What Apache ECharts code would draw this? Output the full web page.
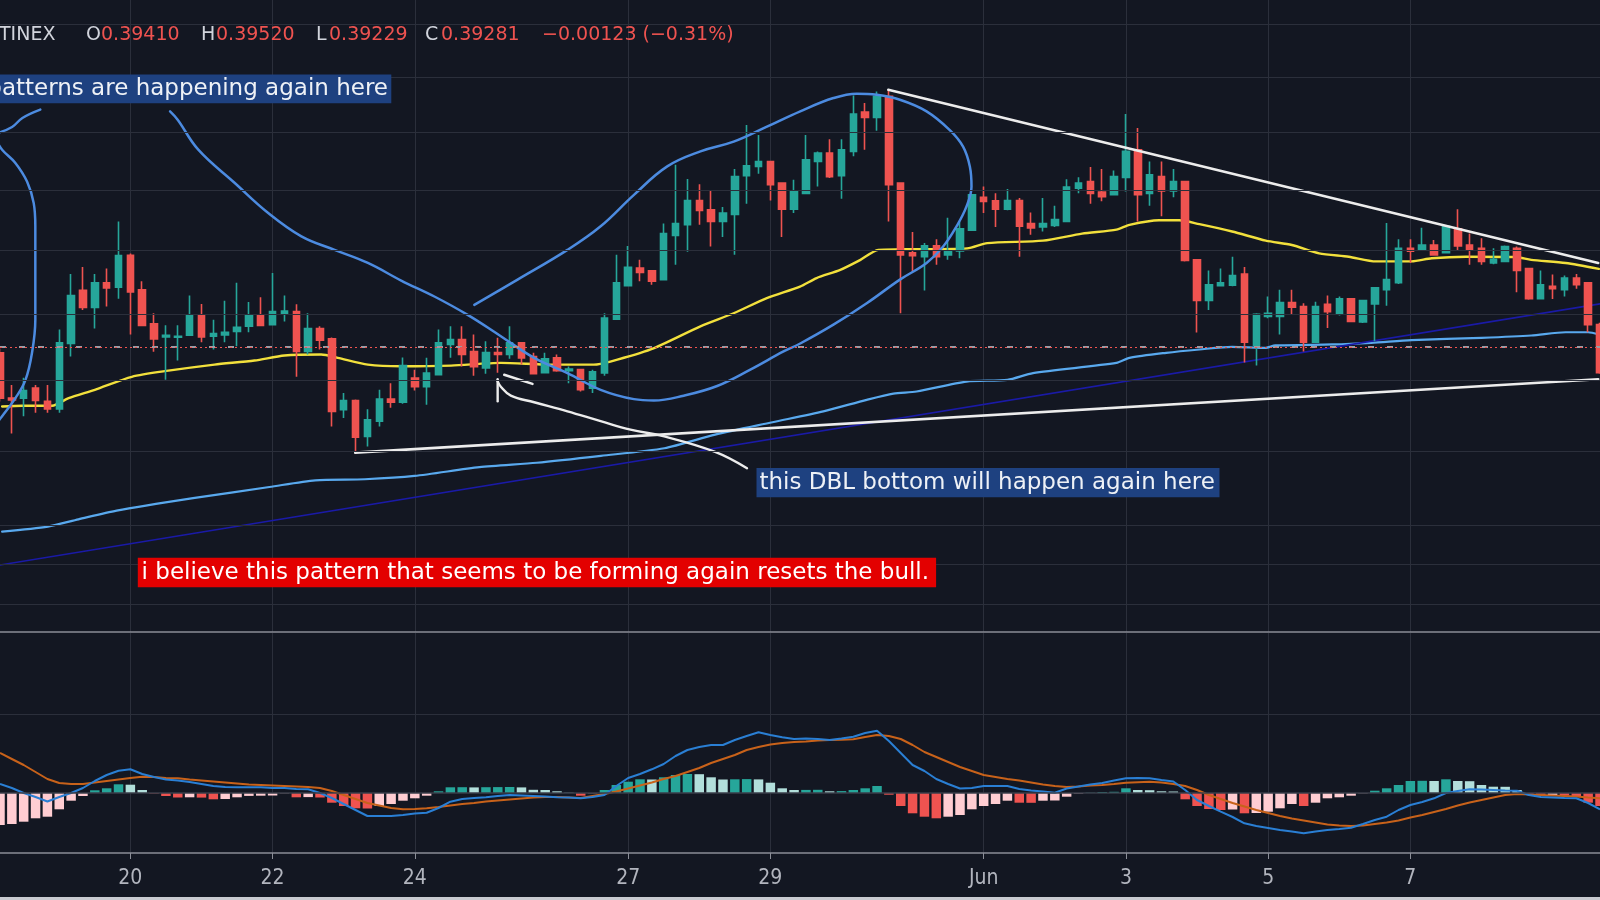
<!DOCTYPE html>
<html><head><meta charset="utf-8">
<script src="https://cdn.jsdelivr.net/npm/echarts/dist/echarts.min.js"></script>
<style>html,body{margin:0;padding:0;background:#131722;overflow:hidden}#c{width:1600px;height:900px}</style>
</head><body><div id="c"></div>
<script>
// ---------- DATA ----------
// 4h candles, first candle = May 18 04:00 ; [open, close, low, high]
const candles = [
[0.3882,0.3749,0.3739,0.3895],[0.3749,0.3744,0.3648,0.3787],[0.3749,0.3771,0.3697,0.3808],[0.3778,0.3742,0.3707,0.3787],
[0.3740,0.3718,0.3707,0.3787],[0.3718,0.3912,0.3707,0.3952],[0.3910,0.4057,0.3871,0.4125],[0.4073,0.4020,0.4012,0.4147],
[0.4020,0.4097,0.3955,0.4125],[0.4097,0.4081,0.4023,0.4142],[0.4083,0.4184,0.4047,0.4295],[0.4185,0.4068,0.3937,0.4190],
[0.4075,0.3965,0.3962,0.4102],[0.3970,0.3924,0.3885,0.4002],[0.3930,0.3935,0.3802,0.3965],[0.3929,0.3932,0.3859,0.3965],
[0.3935,0.3997,0.3933,0.4057],[0.3997,0.3930,0.3914,0.4031],[0.3932,0.3940,0.3892,0.3982],[0.3936,0.3944,0.3914,0.4041],
[0.3946,0.3959,0.3902,0.4097],[0.3962,0.3997,0.3944,0.4037],[0.3997,0.3965,0.3963,0.4052],[0.3967,0.4007,0.3965,0.4128],
[0.4002,0.4009,0.3977,0.4057],[0.4007,0.3886,0.3811,0.4030],[0.3886,0.3955,0.3877,0.4002],[0.3955,0.3920,0.3892,0.3962],
[0.3924,0.3711,0.3668,0.3928],[0.3716,0.3742,0.3692,0.3764],[0.3742,0.3638,0.3599,0.3745],[0.3640,0.3687,0.3612,0.3717],
[0.3683,0.3746,0.3668,0.3773],[0.3746,0.3737,0.3721,0.3792],[0.3737,0.3844,0.3733,0.3868],[0.3807,0.3782,0.3771,0.3832],
[0.3782,0.3822,0.3730,0.3867],[0.3817,0.3912,0.3815,0.3952],[0.3907,0.3922,0.3867,0.3962],[0.3922,0.3877,0.3841,0.3962],
[0.3886,0.3841,0.3814,0.3937],[0.3837,0.3883,0.3820,0.3917],[0.3883,0.3877,0.3823,0.3927],[0.3877,0.3912,0.3864,0.3962],
[0.3912,0.3867,0.3847,0.3914],[0.3871,0.3820,0.3818,0.3882],[0.3823,0.3864,0.3821,0.3882],[0.3867,0.3829,0.3826,0.3877],
[0.3829,0.3834,0.3792,0.3841],[0.3832,0.3773,0.3768,0.3835],[0.3778,0.3826,0.3764,0.3832],[0.3822,0.3987,0.3814,0.4002],
[0.3984,0.4097,0.3982,0.4186],[0.4088,0.4146,0.4085,0.4215],[0.4144,0.4130,0.4102,0.4170],[0.4135,0.4102,0.4091,0.4137],
[0.4107,0.4255,0.4105,0.4288],[0.4249,0.4288,0.4154,0.4487],[0.4284,0.4365,0.4196,0.4438],[0.4365,0.4332,0.4284,0.4420],
[0.4334,0.4295,0.4213,0.4400],[0.4295,0.4323,0.4244,0.4343],[0.4318,0.4446,0.4186,0.4472],[0.4449,0.4483,0.4354,0.4626],
[0.4481,0.4498,0.4456,0.4591],[0.4498,0.4418,0.4365,0.4500],[0.4424,0.4336,0.4244,0.4426],[0.4336,0.4395,0.4323,0.4435],
[0.4389,0.4504,0.4387,0.4591],[0.4498,0.4527,0.4412,0.4533],[0.4527,0.4446,0.4441,0.4576],[0.4449,0.4539,0.4371,0.4576],
[0.4533,0.4665,0.4516,0.4732],[0.4672,0.4653,0.4539,0.4705],[0.4653,0.4729,0.4606,0.4747],[0.4729,0.4418,0.4295,0.4753],
[0.4424,0.4186,0.4002,0.4426],[0.4193,0.4183,0.4133,0.4260],[0.4180,0.4215,0.4073,0.4224],[0.4215,0.4180,0.4154,0.4237],
[0.4186,0.4198,0.4170,0.4307],[0.4199,0.4271,0.4175,0.4295],[0.4266,0.4384,0.4264,0.4386],[0.4376,0.4362,0.4323,0.4412],
[0.4364,0.4336,0.4277,0.4389],[0.4336,0.4365,0.4332,0.4404],[0.4365,0.4279,0.4180,0.4373],[0.4288,0.4274,0.4251,0.4325],
[0.4277,0.4288,0.4262,0.4373],[0.4282,0.4301,0.4277,0.4347],[0.4295,0.4410,0.4293,0.4437],[0.4406,0.4424,0.4389,0.4444],
[0.4429,0.4389,0.4354,0.4479],[0.4393,0.4378,0.4362,0.4472],[0.4384,0.4446,0.4382,0.4467],[0.4443,0.4533,0.4395,0.4665],
[0.4539,0.4384,0.4295,0.4615],[0.4389,0.4452,0.4347,0.4498],[0.4446,0.4397,0.4312,0.4498],[0.4397,0.4429,0.4376,0.4472],
[0.4429,0.4168,0.4165,0.4431],[0.4170,0.4042,0.3943,0.4172],[0.4042,0.4091,0.4012,0.4136],[0.4088,0.4097,0.4086,0.4142],
[0.4089,0.4120,0.4086,0.4180],[0.4125,0.3914,0.3853,0.4147],[0.3904,0.3999,0.3844,0.4002],[0.3992,0.4002,0.3987,0.4054],
[0.3992,0.4035,0.3937,0.4075],[0.4035,0.4021,0.3999,0.4075],[0.4023,0.3914,0.3886,0.4033],[0.3914,0.4023,0.3912,0.4038],
[0.4030,0.4007,0.3957,0.4057],[0.4002,0.4047,0.3995,0.4054],[0.4047,0.3977,0.3975,0.4049],[0.3975,0.4041,0.3972,0.4043],
[0.4031,0.4081,0.3917,0.4083],[0.4075,0.4107,0.4025,0.4290],[0.4097,0.4207,0.4093,0.4237],[0.4207,0.4198,0.4160,0.4237],
[0.4204,0.4218,0.4202,0.4274],[0.4218,0.4186,0.4183,0.4234],[0.4193,0.4279,0.4191,0.4283],[0.4271,0.4215,0.4202,0.4336],
[0.4218,0.4204,0.4154,0.4255],[0.4207,0.4165,0.4154,0.4240],[0.4160,0.4172,0.4156,0.4207],[0.4165,0.4213,0.4164,0.4216],
[0.4207,0.4136,0.4067,0.4213],[0.4142,0.4047,0.4044,0.4145],[0.4047,0.4091,0.4045,0.4136],[0.4086,0.4078,0.4046,0.4123],
[0.4075,0.4112,0.4054,0.4120],[0.4112,0.4091,0.4078,0.4125],[0.4097,0.3967,0.3944,0.4099],[0.3967,0.3823,0.3820,0.3973]
];

// moving averages, sampled as [candle index, price]
const maYellow = [[0.18,0.3725],[1.86,0.3727],[4.39,0.3727],[5.79,0.3749],[8.0,0.3773],[11.12,0.3811],[14.21,0.3829],[18.1,0.3847],[21.47,0.3859],[24.0,0.3874],[27.1,0.3877],[28.5,0.3867],[31.04,0.3847],[33.85,0.3842],[38.06,0.3844],[42.26,0.3852],[46.47,0.3847],[50.1,0.3847],[51.5,0.3856],[54.9,0.3892],[59.1,0.3962],[61.9,0.4002],[64.7,0.4049],[67.5,0.4085],[68.9,0.4112],[70.9,0.4138],[72.6,0.4170],[74.1,0.4202],[75.9,0.4204],[81.6,0.4207],[83.3,0.4224],[88,0.4232],[91.3,0.4255],[94.2,0.4268],[95.3,0.4284],[97.8,0.4299],[99.5,0.4299],[101.2,0.4286],[103.96,0.4262],[106.8,0.4232],[109,0.4218],[111.3,0.4191],[113.8,0.4180],[116.1,0.4165],[119.1,0.4165],[120.8,0.4175],[123.7,0.4180],[127.9,0.4179],[129.2,0.4170],[132.1,0.4160],[134.9,0.4141]];
const maLightBlue = [[0.18,0.3383],[4.04,0.3396],[6.62,0.3415],[9.84,0.3438],[16.29,0.3471],[22.73,0.3501],[26.6,0.3519],[30.78,0.3522],[34.97,0.3531],[40.45,0.3555],[45.28,0.3567],[50.7,0.3586],[56.05,0.3607],[60.34,0.3645],[65.18,0.3680],[69.47,0.3711],[73.13,0.3744],[75.38,0.3762],[77.34,0.3768],[81.55,0.3797],[85,0.3802],[87.16,0.3822],[94.2,0.3852],[95.3,0.3867],[98.4,0.3882],[101.2,0.3892],[103.96,0.3900],[106.8,0.3897],[107.6,0.3904],[112.4,0.3907],[115.7,0.3912],[119.1,0.3920],[125,0.3927],[129.2,0.3934],[132.1,0.3944],[134,0.3944],[134.9,0.3937]];
const navyLine = [[0,0.3297],[135,0.4031]];

// drawn trend lines & annotations [candle index, price]
const trendUpper = [[74.95,0.4753],[134.85,0.4160]];
const trendLower = [[29.97,0.3595],[134.85,0.3804]];
const blueEllipseLeft = [[-0.33,0.4573],[0.177,0.4539],[1.296,0.4493],[2.281,0.4429],[2.845,0.4356],[2.98,0.4279],[2.98,0.3982],[2.70,0.3882],[2.15,0.3802],[1.30,0.3749],[0.177,0.3697],[-0.33,0.3676]];
const blueStrokeTop = [[-0.16,0.4598],[1.02,0.4619],[1.89,0.4651],[3.4,0.4681]];
const blueLoop = [[14.35,0.4675],[14.99,0.4645],[16.73,0.4539],[19.81,0.4424],[22.63,0.4323],[25.43,0.4246],[28.23,0.4202],[31.04,0.4160],[33.85,0.4104],[36.65,0.4054],[39.46,0.3997],[42.26,0.3932],[45.07,0.3867],[47.88,0.3822],[50.68,0.3773],[53.49,0.3746],[55.17,0.3742],[57.69,0.3756],[60.51,0.3784],[63.31,0.3832],[66.11,0.3886],[67.52,0.3910],[70.32,0.3967],[73.13,0.4033],[75.93,0.4107],[78.18,0.4160],[79.58,0.4213],[80.71,0.4279],[81.55,0.4345],[81.97,0.4412],[81.83,0.4481],[81.26,0.4550],[80.14,0.4608],[78.18,0.4675],[75.93,0.4717],[73.97,0.4735],[72.29,0.4739],[70.32,0.4723],[67.52,0.4675],[64.71,0.4620],[61.90,0.4567],[59.1,0.4533],[56.3,0.4481],[53.49,0.4384],[50.68,0.4279],[47.88,0.4202],[43.67,0.4107],[40.02,0.4028]];
const arrowShaft = [[41.97,0.3799],[42.26,0.3782],[43.1,0.3756],[45.07,0.3737],[47.88,0.3711],[50.68,0.3683],[53.2,0.3659],[56.05,0.3640],[60.34,0.3597],[63.03,0.3552]];
const arrowLeg1 = [[41.99,0.3804],[41.99,0.3740]];
const arrowLeg2 = [[42.54,0.3817],[44.93,0.3790]];

const lastPrice = 0.39281;
const priceGridLines = [0.50,0.48,0.46,0.44,0.42,0.40,0.38,0.36,0.345,0.33,0.316];

// MACD pane, units of 1e-4
const macdHist = [-32,-31,-28.7,-25.3,-23.7,-16.3,-7.7,-3,2.7,4.7,8.7,8.3,3,-0.5,-3,-4.5,-4.3,-4.6,-6.3,-6,-4.3,-2.9,-2.7,-2.5,-0.3,-4.3,-4.1,-4.5,-9.7,-13,-15.3,-15.5,-13,-11,-7.7,-5.3,-2.7,1.7,5.7,5.8,5.6,5.8,5.9,6,5.6,3.2,3,1.7,0.3,-2.7,-0.3,3,8,11.3,13.7,13.5,15.7,18,19,18.8,15.7,13.5,13.7,13.9,13.6,10.3,4.7,3,
3.1,3.2,1.7,1.9,3,4.7,7,-1.7,-13,-20.3,-23.7,-25.3,-23.7,-22,-16.3,-13,-11,-7.7,-9.7,-9.8,-7.7,-7.5,-3.7,-0.5,0.3,1,1.2,4.7,3,2.8,1.7,1.5,-6.3,-13,-16,-17,-16.5,-20.3,-20,-18.7,-15.3,-11,-13,-9.7,-5.3,-4.3,-2.7,-0.3,2.3,4.7,8,12,12.2,12,13.7,12,11.8,8,6.3,6.2,3,-1.7,-2.3,-2.2,-2.5,-3.7,-9.7,-13];
const macdLine = [9,5,0,-4,-8.5,-4,0,5,12,18,22.3,23.7,19,16,13.5,12.5,11,9,7,6,5.8,5.7,5.7,5,5,4,3.7,0,-5,-11,-17,-23,-23,-23,-22,-20.5,-19.7,-15,-8.7,-6,-5,-4.3,-3,-2,-2.5,-3,-3.5,-4.2,-4.5,-5.3,-4,-2,7,15,19,23.7,29,37,43,46,48,48,53,57,60.7,58,55.7,54,
54.5,54,53,54.5,56.3,60,62.3,52,40,28,22,14,9,4.5,5,7,7,7,4,2.5,1.5,0.3,4.5,6.5,8.5,10,12.5,14.7,15,14.7,13,11.5,3,-7,-13,-18.7,-24,-30.3,-33,-35,-37,-38.5,-40.3,-38.5,-37,-36,-34.7,-31,-27,-23.7,-17,-12,-9,-5.3,0,2,3.7,3.5,3,2.5,2.3,-2,-4,-4.5,-5,-5.3,-10,-16.3];
const signalLine = [40,34,28,21,14,10,9,9,10.5,12,13.5,15,16.3,16,15,14.7,13.5,12.5,11.5,10.5,9.5,8.5,8,7.5,7,6.5,6,5,2,-2,-6,-10,-12.5,-15,-16.3,-16,-15.3,-14,-12.5,-11,-10,-8.5,-7.5,-6.5,-5.5,-4.5,-4,-4,-4.5,-5,-3,-1,1.5,4.5,7.5,10.5,14,17,21,25,30,34,38,43,46,48.5,50,51,
51.5,52.5,53,53.3,53.7,56,58,57,54,48,41,36,31,26,22,18,16,14,12.5,10.5,8.5,7,6,6.5,7.5,8,9,10.3,10.8,11.3,10.5,9,7,3,-2,-6,-10,-13.5,-17,-20,-23,-25.5,-27.5,-29.5,-31.5,-32.5,-33,-32.5,-31,-29.5,-27.5,-24.5,-22,-19,-16,-12.5,-9.5,-7,-4.5,-2,-1,-1.5,-2,-2.5,-3,-3.5,-4.5,-5.3];
const macdGridLines = [79];

// time axis ticks
const tickIndex = [11,23,35,53,65,83,95,107,119];
const tickText = ['20','22','24','27','29','Jun','3','5','7'];

// ---------- CHART ----------
const N = candles.length;
const MONTHS = ['Jan','Feb','Mar','Apr','May','Jun','Jul','Aug','Sep','Oct','Nov','Dec'];
const start = Date.UTC(2000,4,18,4);
const categories = candles.map((c,i)=>{const d=new Date(start+i*4*3600e3);return MONTHS[d.getUTCMonth()]+' '+d.getUTCDate()+' '+String(d.getUTCHours()).padStart(2,'0')+':00';});
const tickSet = new Set(tickIndex);
const isTick = (idx)=>tickSet.has(idx);

const UP='#26a69a', DOWN='#ef5350', GRID='#2b2f3b', BG='#131722';
const histColors = macdHist.map((v,i)=>{const p = i>0?macdHist[i-1]:-1e9;
  if(v>=0) return v>p?'#26a69a':'#b2dfdb'; return v<p?'#ef5350':'#ffcdd2';});

const chart = echarts.init(document.getElementById('c'));
const gL=-2.1, gR=-1.7;
function lineSeries(name,data,color,width,z,smooth){
  return {name,type:'line',xAxisIndex:1,yAxisIndex:0,data,showSymbol:false,symbol:'none',smooth:smooth,
    lineStyle:{color,width,cap:'round',join:'round'},z,silent:true,clip:true};
}
const txt = (text,x,y,fill,font,align)=>({type:'text',x,y,z:100,silent:true,
  style:{text,fill,font,textAlign:align||'left',align:align||'left',textVerticalAlign:'middle',verticalAlign:'middle'}});
const HF='19px "DejaVu Sans", sans-serif', AF='23px "DejaVu Sans", sans-serif';
const LBL='#d1d4dc', RED='#ef5350';

chart.setOption({
  backgroundColor:BG, animation:false,
  grid:[{left:gL,right:gR,top:0,height:632},{left:gL,right:gR,top:633,height:220}],
  xAxis:[
    {type:'category',gridIndex:0,data:categories,boundaryGap:false,
     axisLine:{show:true,onZero:false,lineStyle:{color:'#8b8e97',width:1.5}},axisTick:{show:false},axisLabel:{show:false},
     splitLine:{show:true,interval:isTick,lineStyle:{color:GRID,width:1}}},
    {type:'value',gridIndex:0,min:0,max:N-1,show:false},
    {type:'category',gridIndex:1,data:categories,boundaryGap:false,
     axisLine:{show:true,onZero:false,lineStyle:{color:'#8b8e97',width:1.5}},
     axisTick:{show:true,interval:isTick,length:6,lineStyle:{color:'#8b8e97'}},
     axisLabel:{show:true,interval:isTick,formatter:(v,i)=>tickText[tickIndex.indexOf(i)]||'',
       color:'#b2b5be',fontSize:21,fontFamily:'"Liberation Sans Narrow","DejaVu Sans Condensed","Liberation Sans",sans-serif',margin:15},
     splitLine:{show:true,interval:isTick,lineStyle:{color:GRID,width:1}}}
  ],
  yAxis:[
    {type:'log',gridIndex:0,min:0.31313,max:0.50933,show:false,splitLine:{show:false}},
    {type:'value',gridIndex:1,min:-60,max:160,show:false,splitLine:{show:false}}
  ],
  series:[
    {name:'grid',type:'line',xAxisIndex:1,yAxisIndex:0,data:[[0,0.4],[N-1,0.4]],symbol:'none',lineStyle:{opacity:0},z:1,silent:true,
     markLine:{silent:true,symbol:['none','none'],label:{show:false},animation:false,
       lineStyle:{color:GRID,type:'solid',width:1},data:priceGridLines.map(v=>({yAxis:v}))}},
    lineSeries('MA yellow',maYellow,'#f2e03c',2.4,2,0.25),
    lineSeries('MA light blue',maLightBlue,'#59a9ee',2.2,2,0.25),
    lineSeries('navy',navyLine,'#1a1aa6',1.6,2,false),
    {name:'price',type:'candlestick',xAxisIndex:0,yAxisIndex:0,data:candles,barWidth:7,z:3,silent:true,
     itemStyle:{color:UP,color0:DOWN,borderColor:UP,borderColor0:DOWN,borderWidth:1.6},
     markLine:{silent:true,symbol:['none','none'],label:{show:false},animation:false,data:[
       {yAxis:lastPrice,lineStyle:{color:'#9a9da6',type:[6,13],width:2}},
       {yAxis:lastPrice,lineStyle:{color:'#ef5350',type:[2,3],width:1.2}}]}},
    lineSeries('trend upper',trendUpper,'#ececec',2.6,4,false),
    lineSeries('trend lower',trendLower,'#ececec',2.6,4,false),
    lineSeries('ellipse left',blueEllipseLeft,'#4c8be0',2.5,4,0.4),
    lineSeries('stroke top',blueStrokeTop,'#4c8be0',2.5,4,0.4),
    lineSeries('loop',blueLoop,'#4c8be0',2.5,4,0.4),
    lineSeries('arrow',arrowShaft,'#ececec',2.4,4,0.4),
    lineSeries('arrow leg1',arrowLeg1,'#ececec',2.4,4,false),
    lineSeries('arrow leg2',arrowLeg2,'#ececec',2.4,4,false),
    {name:'hist',type:'bar',xAxisIndex:2,yAxisIndex:1,barWidth:'80%',z:1,silent:true,
     data:macdHist.map((v,i)=>({value:v,itemStyle:{color:histColors[i]}})),
     markLine:{silent:true,symbol:['none','none'],label:{show:false},animation:false,data:[
       {yAxis:macdGridLines[0],lineStyle:{color:GRID,type:'solid',width:1}},
       {yAxis:0,lineStyle:{color:'#3a3e4a',type:'solid',width:1.5}}]}},
    {name:'MACD',type:'line',xAxisIndex:2,yAxisIndex:1,data:macdLine,showSymbol:false,symbol:'none',lineStyle:{color:'#2a7fd4',width:2},z:3,silent:true},
    {name:'Signal',type:'line',xAxisIndex:2,yAxisIndex:1,data:signalLine,showSymbol:false,symbol:'none',lineStyle:{color:'#c8621a',width:2},z:2,silent:true}
  ],
  graphic:{elements:[
    txt('TINEX',-1,35,LBL,HF),
    txt('O',86,35,LBL,HF), txt('0.39410',101,35,RED,HF),
    txt('H',201,35,LBL,HF), txt('0.39520',216,35,RED,HF),
    txt('L',316,35,LBL,HF), txt('0.39229',329,35,RED,HF),
    txt('C',425,35,LBL,HF), txt('0.39281',441,35,RED,HF),
    txt('\u22120.00123 (\u22120.31%)',542,35,RED,HF),
    {type:'rect',z:99,silent:true,shape:{x:-6,y:74.5,width:397.3,height:28.8},style:{fill:'#1e4180'}},
    txt('patterns are happening again here',388,89,'#eef1f6',AF,'right'),
    {type:'rect',z:99,silent:true,shape:{x:756.5,y:468,width:463,height:29.3},style:{fill:'#1e4180'}},
    txt('this DBL bottom will happen again here',759.4,482.7,'#eef1f6',AF),
    {type:'rect',z:99,silent:true,shape:{x:137.8,y:557.7,width:798.3,height:29.6},style:{fill:'#e30000'}},
    txt('i believe this pattern that seems to be forming again resets the bull.',141.6,572.6,'#ffffff',AF),
    {type:'rect',z:99,silent:true,shape:{x:0,y:897,width:1600,height:3},style:{fill:'#c9cbd1'}}
  ]}
});
</script></body></html>
